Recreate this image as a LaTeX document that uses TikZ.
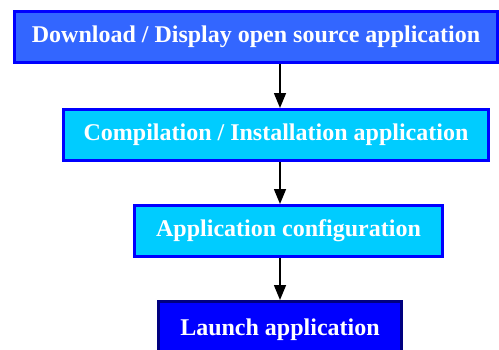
\documentclass[tikz,border=0pt]{standalone}
\usepackage{fontspec}
\setmainfont{Liberation Serif}
\usetikzlibrary{positioning,arrows.meta}
\definecolor{topblue}{RGB}{51,102,255}
\definecolor{skyfill}{RGB}{0,204,255}
\definecolor{pureblue}{RGB}{0,0,255}
\definecolor{navyframe}{RGB}{0,0,128}

\begin{document}
\begin{tikzpicture}[x=1pt, y=-1pt,
  stepbox/.style={draw=pureblue, line width=3pt, inner sep=0pt, text=white,
    font=\fontsize{24}{28}\selectfont\bfseries, minimum height=51pt},
  flow/.style={-{Triangle[length=15pt, width=12pt]}, line width=1.5pt, black}]
\useasboundingbox (0,0) rectangle (499,349);
\clip (0,0) rectangle (499,349);
\fill[white] (0,0) rectangle (499,349);
\node[stepbox, fill=topblue, minimum width=483pt, minimum height=50.5pt] (dl) at (256,36.75) {Download / Display open source application};
\node[stepbox, fill=skyfill, minimum width=425pt] (inst) at (276,135) {Compilation / Installation application};
\node[stepbox, fill=skyfill, minimum width=308pt] (conf) at (288.5,231) {Application configuration};
\node[stepbox, draw=navyframe, fill=pureblue, minimum width=243pt, minimum height=56pt] (run) at (280,329.5) {Launch application};
% arrows all on one vertical line
\draw[flow] (dl.south -| run) -- (inst.north -| run);
\draw[flow] (inst.south -| run) -- (conf.north -| run);
\draw[flow] (conf.south -| run) -- (run.north);
\end{tikzpicture}
\end{document}
